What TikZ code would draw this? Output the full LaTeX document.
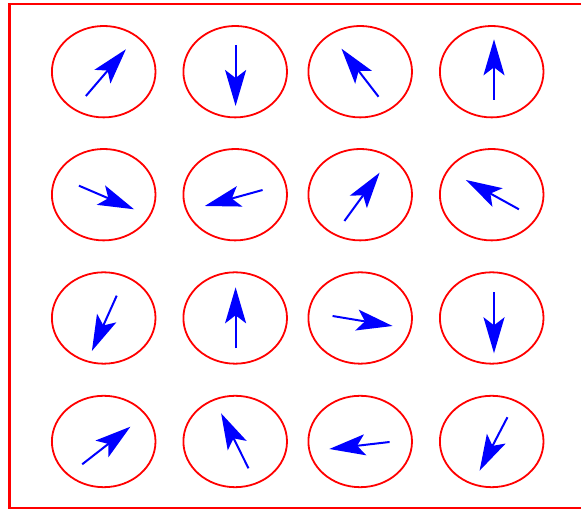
\documentclass[tikz,border=0pt]{standalone}
\usetikzlibrary{arrows.meta,shapes.geometric}
\begin{document}
\begin{tikzpicture}[x=1pt,y=1pt,
  cell/.style={draw=red,line width=1.8pt,ellipse,minimum width=103.6pt,minimum height=91.4pt,inner sep=0pt},
  spin/.style={draw=blue,line width=2pt,-{Stealth[length=36pt,width=21pt,inset=8pt]}}]
\useasboundingbox (0,0) rectangle (581,510);
\draw[red,line width=2.6pt] (600,506) -- (9.5,506) -- (9.5,2) -- (600,2);
% ellipses
\foreach \c/\x in {1/103.7,2/235.2,3/360.2,4/491.7}{
  \foreach \r/\y in {1/438.3,2/315.3,3/192,4/68.5}{
    \node[cell] (e\r\c) at (\x,\y) {};
  }
}
% arrow coordinates
\coordinate (a1t) at (85.9,414);   \coordinate (a1h) at (125.9,460.7);
\coordinate (a2t) at (235.6,465);  \coordinate (a2h) at (235.6,404);
\coordinate (a3t) at (378.5,413.3);\coordinate (a3h) at (341.5,461.3);
\coordinate (a4t) at (494,410);    \coordinate (a4h) at (494,470.7);
\coordinate (b1t) at (78.9,324.3); \coordinate (b1h) at (134.1,300.7);
\coordinate (b2t) at (262.6,320);  \coordinate (b2h) at (204.8,304);
\coordinate (b3t) at (344.4,289);  \coordinate (b3h) at (379.6,337.3);
\coordinate (b4t) at (518.9,300.7);\coordinate (b4h) at (465.9,330);
\coordinate (c1t) at (116.7,214.3);\coordinate (c1h) at (91.9,159);
\coordinate (c2t) at (235.6,161.7);\coordinate (c2h) at (235.6,222.7);
\coordinate (c3t) at (332.6,194);  \coordinate (c3h) at (392.6,184);
\coordinate (c4t) at (494,217.7);  \coordinate (c4h) at (494,156.7);
\coordinate (d1t) at (82.2,45.7);  \coordinate (d1h) at (130.4,83.3);
\coordinate (d2t) at (248.5,41.7); \coordinate (d2h) at (221.1,96.7);
\coordinate (d3t) at (389.6,68);   \coordinate (d3h) at (329.3,61);
\coordinate (d4t) at (507.4,92.7); \coordinate (d4h) at (479.6,39.3);
\foreach \n in {a1,a2,a3,a4,b1,b2,b3,b4,c1,c2,c3,c4,d1,d2,d3,d4}{
  \draw[spin] (\n t) -- (\n h);
}
\end{tikzpicture}
\end{document}
